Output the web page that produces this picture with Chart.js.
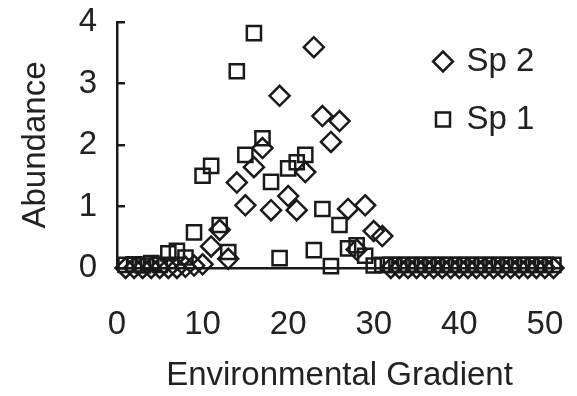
<!DOCTYPE html>
<html>
<head>
<meta charset="utf-8">
<script src="https://cdn.jsdelivr.net/npm/chart.js@4.4.1/dist/chart.umd.min.js"></script>
<style>
  html, body { margin: 0; padding: 0; background: #fff; }
  #wrap { width: 577px; height: 396px; }
</style>
</head>
<body>
<div id="wrap"><canvas id="abundance-chart" width="577" height="396"></canvas></div>
<script>
// sample positions along the gradient
const gradientPositions = [
  1, 2, 3, 4, 5, 6, 7, 8, 9, 10,
  11, 12, 13, 14, 15, 16, 17, 18, 19, 20,
  21, 22, 23, 24, 25, 26, 27, 28, 29, 30,
  31, 32, 33, 34, 35, 36, 37, 38, 39, 40,
  41, 42, 43, 44, 45, 46, 47, 48, 49, 50, 51
]

// abundance, one per position
const sp1Abundance = [
  0.05, 0.06, 0.04, 0.08, 0.05, 0.24, 0.28, 0.17, 0.58, 1.50,
  1.66, 0.70, 0.26, 3.20, 1.84, 3.82, 2.11, 1.40, 0.16, 1.62,
  1.72, 1.84, 0.29, 0.96, 0.03, 0.70, 0.32, 0.37, 0.20, 0.04,
  0.05, 0.05, 0.05, 0.05, 0.05, 0.05, 0.05, 0.05, 0.05, 0.05,
  0.05, 0.05, 0.05, 0.05, 0.05, 0.05, 0.05, 0.05, 0.05, 0.05, 0.05
]
const sp2Abundance = [
  0, 0, 0, 0, 0, 0, 0, 0.02, 0.04, 0.06,
  0.35, 0.62, 0.15, 1.39, 1.02, 1.64, 1.95, 0.94, 2.80, 1.17,
  0.94, 1.56, 3.59, 2.47, 2.05, 2.39, 0.96, 0.30, 1.02, 0.60,
  0.52, 0, 0, 0, 0, 0, 0, 0, 0, 0,
  0, 0, 0, 0, 0, 0, 0, 0, 0, 0, 0
]

const xTickValues = [0, 10, 20, 30, 40, 50]
const yTickValues = [0, 1, 2, 3, 4]

const ink = '#1a1a1a'
const textInk = '#222'

Chart.defaults.font.family = '"Liberation Sans", Arial, sans-serif'

// legend sits inside the plot, top right
const legendInPlot = {
  id: 'legendInPlot',
  afterLayout(chart) {
    const lg = chart.legend
    lg.left = 411
    lg.right = 577
    lg.width = 166
    lg.top = 20
    lg.bottom = 396
    lg.height = 376
  }
}

function points(values) {
  return gradientPositions.map((x, i) => ({ x: x, y: values[i] }))
}

new Chart(document.querySelector('#abundance-chart').getContext('2d'), {
  type: 'scatter',
  data: {
    datasets: [
      {
        label: 'Sp 2',
        data: points(sp2Abundance),
        pointStyle: 'rectRot',
        pointRadius: 10,
        borderWidth: 2.5,
        borderColor: ink,
        backgroundColor: 'rgba(0,0,0,0)',
        clip: false
      },
      {
        label: 'Sp 1',
        data: points(sp1Abundance),
        pointStyle: 'rect',
        pointRadius: 10,
        borderWidth: 2.5,
        borderColor: ink,
        backgroundColor: 'rgba(0,0,0,0)',
        clip: false
      }
    ]
  },
  options: {
    responsive: false,
    animation: false,
    layout: { padding: { left: 0, right: 15, top: 22, bottom: 0 } },
    plugins: {
      tooltip: { enabled: false },
      legend: {
        position: 'chartArea',
        align: 'start',
        labels: {
          usePointStyle: true,
          boxWidth: 14,
          boxHeight: 14,
          padding: 25,
          color: textInk,
          font: { size: 33 }
        }
      }
    },
    scales: {
      x: {
        type: 'linear',
        min: 0,
        max: 52,
        afterBuildTicks: s => { s.ticks = xTickValues.map(v => ({ value: v })) },
        afterFit: s => {
          s.height = 128
          s.paddingLeft = 0
          s.paddingRight = 0
        },
        grid: { display: false, drawTicks: false },
        border: { display: true, color: ink, width: 2.5 },
        ticks: { padding: 37, maxRotation: 0, color: textInk, font: { size: 33 } },
        title: {
          display: true,
          text: 'Environmental Gradient',
          color: textInk,
          font: { size: 33 },
          padding: { top: 0, bottom: 0 }
        }
      },
      y: {
        min: 0,
        max: 4,
        afterBuildTicks: s => { s.ticks = yTickValues.map(v => ({ value: v })) },
        afterFit: s => {
          s.width = 117
          s.paddingTop = 0
          s.paddingBottom = 0
        },
        grid: { drawOnChartArea: false, drawTicks: true, tickLength: -8, color: ink, lineWidth: 2.5 },
        border: { display: true, color: ink, width: 2.5 },
        ticks: { padding: 28, color: textInk, font: { size: 33 } },
        title: {
          display: true,
          text: 'Abundance',
          color: textInk,
          font: { size: 33 },
          padding: { top: 16, bottom: 0 }
        }
      }
    }
  },
  plugins: [legendInPlot]
})
</script>
</body>
</html>
